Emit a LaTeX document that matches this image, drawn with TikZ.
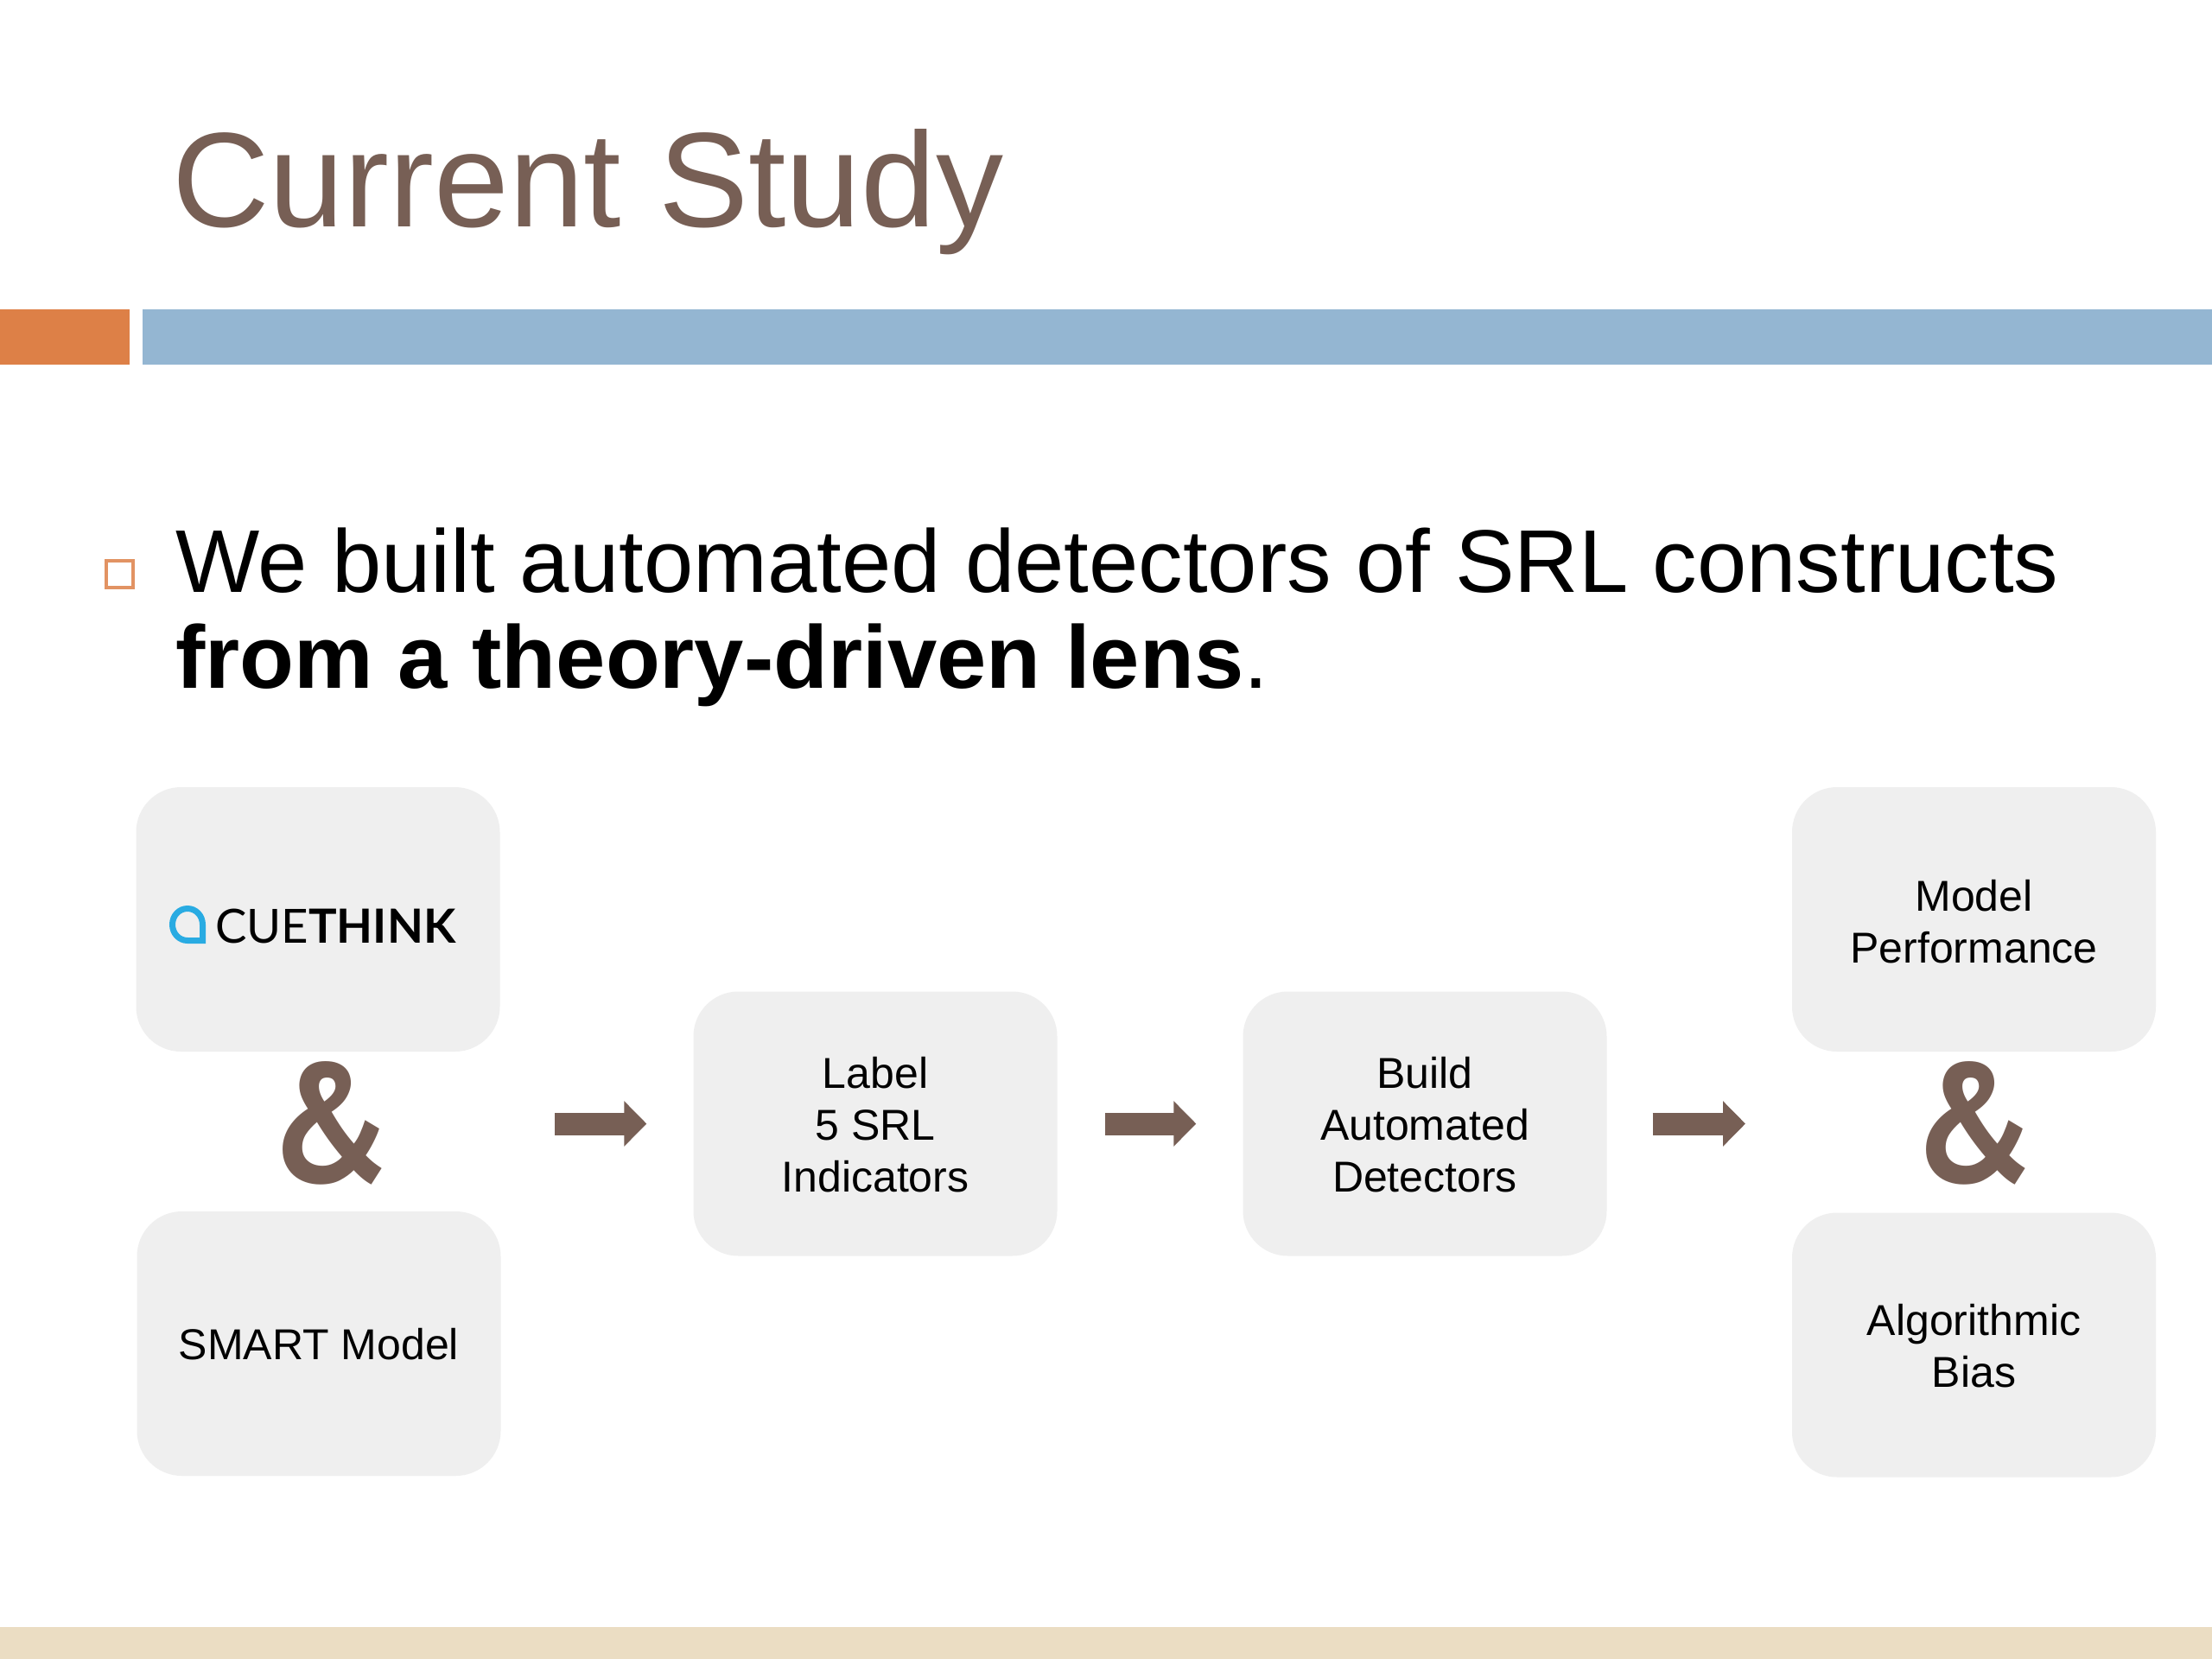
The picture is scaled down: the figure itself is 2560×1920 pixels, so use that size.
\documentclass[tikz,border=0pt]{standalone}
\usepackage{fontspec}
\usetikzlibrary{arrows.meta}
\setmainfont{Liberation Sans}
\newfontfamily\amp{PT Sans}
\newfontfamily\logofont{Lato}
\definecolor{brownc}{HTML}{775F55}
\definecolor{orangec}{HTML}{DD8047}
\definecolor{bluec}{HTML}{94B6D2}
\definecolor{footc}{HTML}{EBDDC3}
\definecolor{boxc}{HTML}{EFEFEF}
\definecolor{logoc}{HTML}{29ABE2}
\tikzset{
  x=1pt,y=-1pt,
  stage/.style={fill=boxc,rounded corners=52pt,minimum width=421pt,minimum height=306pt,inner sep=0pt,align=center,font=\fontsize{50}{60}\selectfont},
  flow/.style={draw=brownc,line width=26pt,-{Triangle[length=26pt,width=51pt,fill=brownc]},shorten >=54pt},
  ampersand/.style={text=brownc,inner sep=0pt,xscale=.89,font=\fontsize{196}{196}\amp\bfseries},
}
\begin{document}
\begin{tikzpicture}
\useasboundingbox (0,0) rectangle (2560,1920);
\fill[white] (0,0) rectangle (2560,1920);
\fill[orangec] (0,358) rectangle (150,422);
\fill[bluec] (165,358) rectangle (2560,422);
\fill[footc] (0,1883) rectangle (2560,1920);
\node[anchor=base west,inner sep=0pt,text=brownc,font=\fontsize{156}{156}\selectfont] (title) at (199,262) {Current Study};
\node[draw=orangec!85!white,line width=4pt,minimum size=31pt,inner sep=0pt] (bullet) at (138.5,664) {};
\node[anchor=north west,inner sep=0pt,align=left,font=\fontsize{103}{111}\selectfont] (body) at (203,611) {We built automated detectors of SRL constructs\\\textbf{from a theory-driven lens}.};
\node[stage] (cue) at (368,1064) {};
\node[stage] (smart) at (369,1555) {\rule{0pt}{38pt}SMART Model};
\node[stage] (label) at (1013,1300.5) {\rule{0pt}{38pt}Label\\5 SRL\\Indicators};
\node[stage] (build) at (1649,1300.5) {\rule{0pt}{38pt}Build\\Automated\\Detectors};
\node[stage] (perf) at (2284.5,1064) {\rule{0pt}{42pt}Model\\Performance};
\node[stage] (bias) at (2284.5,1556.5) {\rule{0pt}{38pt}Algorithmic\\Bias};
\node[ampersand] (amp1) at (382,1300) {\&};
\node[ampersand] (amp2) at (2284,1300) {\&};
\node[anchor=base west,inner sep=0pt,font=\fontsize{54.5}{54.5}\logofont] (logo) at (249,1091) {CUE\textbf{THINK}};
\draw[logoc,line width=7pt] (234.5,1088.5) -- (217,1088.5) .. controls (207,1088.5) and (199.5,1080) .. (199.5,1070) .. controls (199.5,1060) and (207,1051.5) .. (217,1051.5) .. controls (227,1051.5) and (234.5,1060) .. (234.5,1070) -- cycle;
\coordinate (leftgroup) at (642,1300.5);
\coordinate (rightgroup) at (2074,1300.5);
\draw[flow] (leftgroup) -- (label.west);
\draw[flow,shorten <=55pt] (label.east) -- (build.west);
\draw[flow,shorten <=53pt] (build.east) -- (rightgroup);
\end{tikzpicture}
\end{document}
